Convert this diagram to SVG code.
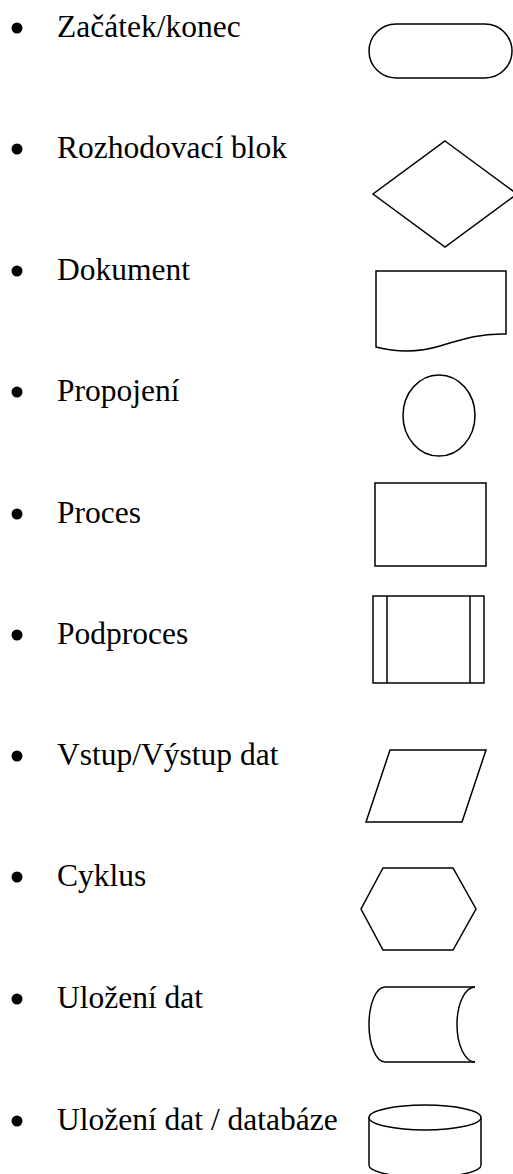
<svg xmlns="http://www.w3.org/2000/svg" width="513" height="1174" viewBox="0 0 513 1174">
  <style>
    .label { font-family: "Liberation Serif", "Times New Roman", serif; font-size: 31.5px; fill: #000; }
    .dot { fill: #000; }
    .shape { fill: none; stroke: #000; stroke-width: 1.5; stroke-linejoin: miter; }
  </style>
  <rect width="513" height="1174" fill="#fff"/>

  <!-- legend rows: bullet, name, symbol -->
  <g id="terminator">
    <circle class="dot" cx="17" cy="28" r="5.5"/>
    <text class="label" x="57" y="37">Začátek/konec</text>
    <rect class="shape" x="369" y="24" width="143" height="54" rx="27" ry="27"/>
  </g>

  <g id="decision">
    <circle class="dot" cx="17" cy="149" r="5.5"/>
    <text class="label" x="57" y="158">Rozhodovací blok</text>
    <polygon class="shape" points="445,141 517,194 445,247 373,194"/>
  </g>

  <g id="document">
    <circle class="dot" cx="17" cy="271" r="5.5"/>
    <text class="label" x="57" y="280">Dokument</text>
    <path class="shape" d="M376,347 V271 H506 V334 C480,333 460,340 440,346 C420,352 400,353 376,347 Z"/>
  </g>

  <g id="connector">
    <circle class="dot" cx="17" cy="392" r="5.5"/>
    <text class="label" x="57" y="401">Propojení</text>
    <ellipse class="shape" cx="439" cy="415.5" rx="36" ry="40.5"/>
  </g>

  <g id="process">
    <circle class="dot" cx="17" cy="514" r="5.5"/>
    <text class="label" x="57" y="523">Proces</text>
    <rect class="shape" x="375" y="483" width="111" height="83"/>
  </g>

  <g id="subprocess">
    <circle class="dot" cx="17" cy="635" r="5.5"/>
    <text class="label" x="57" y="644">Podproces</text>
    <rect class="shape" x="373" y="596" width="111" height="87"/>
    <line class="shape" x1="387" y1="596" x2="387" y2="683"/>
    <line class="shape" x1="470" y1="596" x2="470" y2="683"/>
  </g>

  <g id="io">
    <circle class="dot" cx="17" cy="756" r="5.5"/>
    <text class="label" x="57" y="765">Vstup/Výstup dat</text>
    <polygon class="shape" points="390,750 486,750 462,822 366,822"/>
  </g>

  <g id="loop">
    <circle class="dot" cx="17" cy="877" r="5.5"/>
    <text class="label" x="57" y="886">Cyklus</text>
    <polygon class="shape" points="383,868 453,868 476,909 453,950 383,950 361,909"/>
  </g>

  <g id="stored-data">
    <circle class="dot" cx="17" cy="999" r="5.5"/>
    <text class="label" x="57" y="1008">Uložení dat</text>
    <path class="shape" d="M475,987 H385 A16,37.5 0 0 0 385,1062 H475"/>
    <path class="shape" d="M475,987 A18,37.5 0 0 0 475,1062"/>
  </g>

  <g id="database">
    <circle class="dot" cx="17" cy="1121" r="5.5"/>
    <text class="label" x="57" y="1130">Uložení dat / databáze</text>
    <ellipse class="shape" cx="425" cy="1117.5" rx="56" ry="12.5"/>
    <path class="shape" d="M369,1117.5 V1165 A56,12.5 0 0 0 481,1165 V1117.5"/>
  </g>

  <g id="connectors"/>
</svg>
